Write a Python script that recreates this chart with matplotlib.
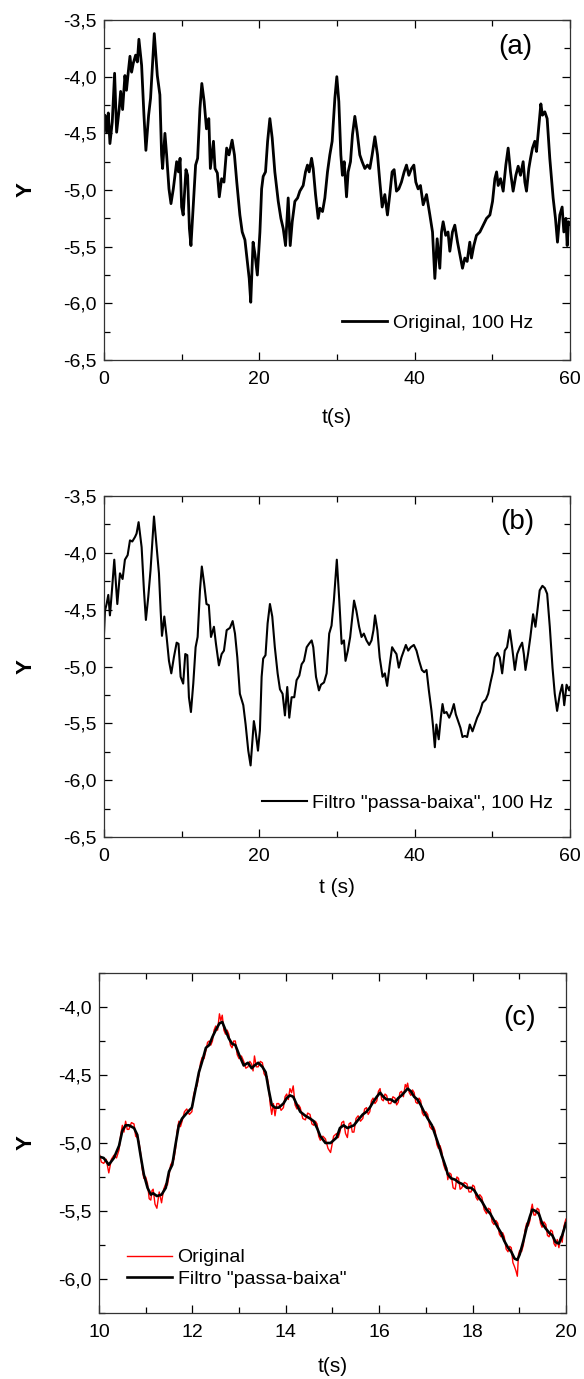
import matplotlib
matplotlib.use("Agg")
import matplotlib.pyplot as plt
from matplotlib.ticker import MultipleLocator, FuncFormatter

plt.rcParams['font.family'] = ['Liberation Sans', 'DejaVu Sans']

# (a) original signal, 100 Hz
t_orig = [0.0, 0.13, 0.34, 0.56, 0.77, 1.07, 1.37, 1.63, 1.97, 2.15,
          2.4, 2.7, 2.9, 3.13, 3.35, 3.56, 3.78, 4.08, 4.3, 4.5,
          4.85, 5.15, 5.4, 5.75, 6.0, 6.48, 6.87, 7.2, 7.42, 7.55,
          7.85, 8.07, 8.37, 8.63, 8.93, 9.36, 9.6, 9.8, 10.0, 10.2,
          10.56, 10.77, 11.0, 11.2, 11.5, 11.8, 12.06, 12.36, 12.6, 12.9,
          13.2, 13.5, 13.7, 14.1, 14.3, 14.6, 14.85, 15.15, 15.45, 15.8,
          16.1, 16.5, 16.8, 17.1, 17.5, 17.8, 18.15, 18.45, 18.7, 18.9,
          19.2, 19.45, 19.75,
          20.08, 20.3, 20.5, 20.8, 21.07, 21.36, 21.66, 22.0, 22.44, 22.78,
          23.08, 23.38, 23.72, 23.98, 24.24, 24.58, 24.93, 25.22, 25.65, 25.95,
          26.2, 26.42, 26.73, 26.94, 27.24, 27.58, 27.8, 28.14, 28.44, 28.78,
          29.08, 29.38, 29.73, 29.98, 30.24, 30.5, 30.7, 30.93, 31.23, 31.44,
          31.74, 32.0, 32.3, 32.6, 32.94, 33.24, 33.59, 33.93, 34.23, 34.53,
          34.88, 35.22, 35.52, 35.82, 36.16, 36.5, 36.8, 37.1, 37.36, 37.66,
          37.96, 38.3, 38.65, 38.95, 39.25,
          39.6, 39.9, 40.15, 40.45, 40.75, 41.1, 41.53, 41.96, 42.3, 42.6,
          42.9, 43.24, 43.46, 43.67, 44.0, 44.3, 44.53, 44.87, 45.17, 45.52,
          45.82, 46.16, 46.46, 46.76, 47.1, 47.32, 47.62, 47.96, 48.4, 48.83,
          49.26, 49.69, 50.03, 50.33, 50.55, 50.76, 51.06, 51.4, 51.74, 52.04,
          52.34, 52.68, 53.03, 53.33, 53.63, 53.97, 54.19, 54.4, 54.7, 54.92,
          55.17, 55.47, 55.69, 55.99, 56.25, 56.46, 56.76, 57.06, 57.4, 57.83,
          58.13, 58.39, 58.69, 58.99, 59.21, 59.47, 59.64, 59.81, 60.0]
y_orig = [-4.43, -4.34, -4.49, -4.32, -4.59, -4.40, -3.97, -4.49, -4.28, -4.13,
          -4.29, -3.99, -4.12, -3.96, -3.82, -3.96, -3.88, -3.81, -3.87, -3.67,
          -3.90, -4.34, -4.65, -4.34, -4.19, -3.62, -3.99, -4.16, -4.69, -4.81,
          -4.50, -4.69, -4.99, -5.12, -4.99, -4.75, -4.84, -4.72, -5.15, -5.22,
          -4.82, -4.87, -5.34, -5.49, -5.13, -4.78, -4.72, -4.28, -4.06, -4.22,
          -4.46, -4.37, -4.81, -4.57, -4.81, -4.85, -5.06, -4.90, -4.93, -4.63,
          -4.69, -4.56, -4.69, -4.93, -5.22, -5.37, -5.44, -5.63, -5.78, -5.99,
          -5.46, -5.57, -5.75,
          -5.37, -4.99, -4.88, -4.84, -4.57, -4.37, -4.54, -4.84, -5.10, -5.25,
          -5.34, -5.49, -5.07, -5.49, -5.28, -5.10, -5.07, -5.01, -4.96, -4.84,
          -4.78, -4.84, -4.72, -4.81, -5.04, -5.25, -5.16, -5.19, -5.07, -4.84,
          -4.69, -4.57, -4.19, -4.00, -4.22, -4.69, -4.87, -4.75, -5.06, -4.84,
          -4.75, -4.51, -4.35, -4.49, -4.69, -4.75, -4.81, -4.78, -4.81, -4.69,
          -4.53, -4.69, -4.93, -5.15, -5.04, -5.22, -5.04, -4.84, -4.82, -5.01,
          -4.99, -4.93, -4.84, -4.78, -4.87,
          -4.81, -4.78, -4.93, -4.99, -4.96, -5.13, -5.04, -5.22, -5.37, -5.78,
          -5.43, -5.69, -5.37, -5.28, -5.40, -5.37, -5.54, -5.37, -5.31, -5.46,
          -5.57, -5.69, -5.60, -5.63, -5.46, -5.60, -5.49, -5.40, -5.37, -5.31,
          -5.25, -5.22, -5.10, -4.90, -4.84, -4.96, -4.90, -5.01, -4.78, -4.63,
          -4.84, -5.01, -4.87, -4.79, -4.87, -4.75, -4.93, -5.01, -4.81, -4.72,
          -4.63, -4.57, -4.66, -4.43, -4.24, -4.34, -4.31, -4.37, -4.72, -5.07,
          -5.25, -5.46, -5.22, -5.15, -5.37, -5.25, -5.49, -5.28, -5.30]

# (b) low-pass filtered signal
t_filt = [0.0, 0.13, 0.34, 0.56, 0.77, 1.03, 1.33, 1.72, 2.06, 2.4,
          2.7, 3.05, 3.35, 3.65, 4.0, 4.2, 4.46, 4.85, 5.15, 5.4,
          5.7, 6.0, 6.44, 6.78, 7.08, 7.3, 7.47, 7.77, 8.07, 8.37,
          8.67, 9.0, 9.36, 9.6, 9.87, 10.2, 10.47, 10.73, 10.94, 11.2,
          11.5, 11.8, 12.06, 12.36, 12.6, 12.9, 13.2, 13.5, 13.78, 14.16,
          14.42, 14.8, 15.15, 15.45, 15.8, 16.22, 16.57, 16.87, 17.17, 17.5,
          17.94, 18.24, 18.58, 18.88, 19.3, 19.5, 19.83, 20.08, 20.3, 20.5,
          20.8, 21.07, 21.37, 21.67, 22.0, 22.36, 22.66, 23.0, 23.3, 23.6,
          23.86, 24.16, 24.5, 24.8, 25.15, 25.45, 25.75, 26.1, 26.4, 26.74,
          26.95, 27.3, 27.68, 27.94, 28.33, 28.67, 29.0, 29.3, 29.6, 29.98,
          30.3, 30.6, 30.9, 31.1, 31.4, 31.7, 32.2, 32.5, 32.85, 33.16,
          33.46, 33.8, 34.15, 34.45, 34.7, 34.9, 35.2, 35.5, 35.87, 36.16,
          36.46, 36.8, 37.1, 37.36, 37.66, 37.96, 38.3, 38.61, 38.87, 39.17,
          39.5, 39.9, 40.24, 40.58, 40.93, 41.23, 41.53, 41.83, 42.17, 42.39,
          42.6, 42.8, 43.1, 43.37, 43.59, 43.8, 44.1, 44.45, 44.75, 45.05,
          45.3, 45.6, 45.9, 46.16, 46.46, 46.76, 47.1, 47.45, 47.75, 48.05,
          48.4, 48.74, 49.17, 49.47, 49.77, 50.1, 50.32, 50.67, 50.96, 51.27,
          51.6, 51.9, 52.25, 52.55, 52.9, 53.2, 53.54, 53.84, 54.06, 54.27,
          54.6, 54.9, 55.25, 55.55, 55.8, 56.1, 56.45, 56.76, 57.06, 57.4,
          57.75, 58.04, 58.34, 58.7, 59.0, 59.26, 59.56, 59.9, 60.0]
y_filt = [-4.72, -4.51, -4.45, -4.37, -4.55, -4.33, -4.06, -4.45, -4.18, -4.23,
          -4.06, -4.02, -3.89, -3.90, -3.86, -3.83, -3.73, -3.95, -4.33, -4.59,
          -4.39, -4.15, -3.68, -3.95, -4.18, -4.51, -4.73, -4.56, -4.74, -4.95,
          -5.06, -4.92, -4.79, -4.80, -5.09, -5.15, -4.89, -4.90, -5.27, -5.40,
          -5.15, -4.83, -4.74, -4.33, -4.12, -4.27, -4.45, -4.46, -4.74, -4.65,
          -4.80, -4.99, -4.89, -4.86, -4.68, -4.66, -4.60, -4.71, -4.92, -5.24,
          -5.34, -5.51, -5.74, -5.87, -5.48, -5.56, -5.74, -5.56, -5.09, -4.93,
          -4.90, -4.62, -4.45, -4.56, -4.83, -5.06, -5.20, -5.24, -5.43, -5.18,
          -5.45, -5.27, -5.27, -5.12, -5.08, -4.98, -4.95, -4.83, -4.80, -4.77,
          -4.83, -5.09, -5.21, -5.16, -5.14, -5.06, -4.71, -4.64, -4.42, -4.06,
          -4.42, -4.80, -4.77, -4.95, -4.86, -4.74, -4.42, -4.51, -4.65, -4.74,
          -4.71, -4.77, -4.81, -4.77, -4.68, -4.55, -4.68, -4.92, -5.09, -5.06,
          -5.17, -4.98, -4.83, -4.86, -4.89, -5.01, -4.92, -4.86, -4.81, -4.86,
          -4.83, -4.81, -4.86, -4.95, -5.03, -5.05, -5.03, -5.21, -5.39, -5.54,
          -5.71, -5.51, -5.64, -5.45, -5.33, -5.41, -5.40, -5.45, -5.40, -5.33,
          -5.42, -5.48, -5.54, -5.62, -5.61, -5.62, -5.51, -5.57, -5.51, -5.45,
          -5.40, -5.32, -5.29, -5.24, -5.14, -5.04, -4.92, -4.88, -4.92, -5.06,
          -4.86, -4.83, -4.68, -4.83, -5.03, -4.89, -4.83, -4.79, -4.89, -5.03,
          -4.89, -4.74, -4.54, -4.65, -4.51, -4.33, -4.29, -4.31, -4.36, -4.65,
          -5.01, -5.24, -5.39, -5.24, -5.16, -5.34, -5.16, -5.21, -5.18]

# (c) detail 10-20 s
t_zoom = [10.0, 10.1, 10.21, 10.32, 10.43, 10.5, 10.57, 10.64, 10.75, 10.82,
          10.89, 10.96, 11.04, 11.11, 11.16, 11.24, 11.34, 11.43, 11.5, 11.57,
          11.64, 11.71, 11.78, 11.88, 11.99, 12.06, 12.14, 12.21, 12.29, 12.36,
          12.43, 12.5, 12.58, 12.64, 12.71, 12.78, 12.85, 12.92, 13.0, 13.1,
          13.19, 13.27, 13.33, 13.41, 13.5, 13.57, 13.63, 13.7, 13.77, 13.85,
          13.95, 14.02, 14.09, 14.16, 14.24, 14.31, 14.42, 14.52, 14.6, 14.67,
          14.74, 14.85, 14.96, 15.09, 15.16, 15.24, 15.32, 15.39, 15.46, 15.55,
          15.65, 15.73, 15.8, 15.87, 15.95, 16.02, 16.09, 16.16, 16.25, 16.34,
          16.41, 16.48, 16.56, 16.61, 16.68, 16.75, 16.82, 16.89, 16.96, 17.04,
          17.13, 17.2, 17.27, 17.34, 17.42, 17.47, 17.54, 17.63, 17.7, 17.77,
          17.88, 17.97, 18.04, 18.11, 18.2, 18.3, 18.38, 18.46, 18.54, 18.61,
          18.68, 18.76, 18.83, 18.9, 18.96, 19.01, 19.09, 19.16, 19.23, 19.28,
          19.35, 19.42, 19.49, 19.57, 19.64, 19.71, 19.78, 19.85, 19.92, 20.0]
y_zoom_orig = [-5.07, -5.15, -5.22, -5.09, -5.05, -4.87, -4.84, -4.90, -4.86, -4.96,
               -5.07, -5.26, -5.30, -5.42, -5.34, -5.48, -5.44, -5.30, -5.24, -5.14,
               -5.04, -4.84, -4.84, -4.75, -4.77, -4.60, -4.50, -4.37, -4.32, -4.25,
               -4.25, -4.14, -4.05, -4.06, -4.20, -4.20, -4.30, -4.25, -4.38, -4.40,
               -4.44, -4.42, -4.36, -4.44, -4.41, -4.51, -4.57, -4.79, -4.80, -4.71,
               -4.74, -4.64, -4.60, -4.58, -4.75, -4.74, -4.83, -4.79, -4.87, -4.86,
               -4.98, -4.97, -5.07, -4.93, -4.92, -4.84, -4.96, -4.85, -4.92, -4.80,
               -4.82, -4.74, -4.77, -4.67, -4.69, -4.60, -4.69, -4.65, -4.71, -4.67,
               -4.70, -4.62, -4.57, -4.56, -4.65, -4.63, -4.71, -4.69, -4.80, -4.79,
               -4.90, -4.91, -5.04, -5.06, -5.20, -5.27, -5.23, -5.34, -5.26, -5.33,
               -5.30, -5.36, -5.32, -5.42, -5.40, -5.52, -5.49, -5.60, -5.59, -5.69,
               -5.69, -5.80, -5.77, -5.91, -5.98, -5.79, -5.75, -5.59, -5.57, -5.45,
               -5.53, -5.49, -5.62, -5.60, -5.69, -5.65, -5.76, -5.77, -5.73, -5.56]
# extra original samples between the ones above
t_zoom_mid = [10.05, 10.155, 10.265, 10.375, 10.465, 10.535, 10.605, 10.695, 10.785, 10.855,
              10.925, 11.0, 11.075, 11.135, 11.2, 11.29, 11.385, 11.465, 11.535, 11.605,
              11.675, 11.745, 11.83, 11.935, 12.025, 12.1, 12.175, 12.25, 12.325, 12.395,
              12.465, 12.54, 12.61, 12.675, 12.745, 12.815, 12.885, 12.96, 13.05, 13.145,
              13.23, 13.3, 13.37, 13.455, 13.535, 13.6, 13.665, 13.735, 13.81, 13.9,
              13.985, 14.055, 14.125, 14.2, 14.275, 14.365, 14.47, 14.56, 14.635, 14.705,
              14.795, 14.905, 15.025, 15.125, 15.2, 15.28, 15.355, 15.425, 15.505, 15.6,
              15.69, 15.765, 15.835, 15.91, 15.985, 16.055, 16.125, 16.205, 16.295, 16.375,
              16.445, 16.52, 16.585, 16.645, 16.715, 16.785, 16.855, 16.925, 17.0, 17.085,
              17.165, 17.235, 17.305, 17.38, 17.445, 17.505, 17.585, 17.665, 17.735, 17.825,
              17.925, 18.005, 18.075, 18.155, 18.25, 18.34, 18.42, 18.5, 18.575, 18.645,
              18.72, 18.795, 18.865, 18.93, 18.985, 19.05, 19.125, 19.195, 19.255, 19.315,
              19.385, 19.455, 19.53, 19.605, 19.675, 19.745, 19.815, 19.885, 19.96]
y_zoom_mid = [-5.14, -5.12, -5.12, -5.11, -4.94, -4.92, -4.90, -4.85, -4.95, -4.99,
              -5.19, -5.25, -5.41, -5.35, -5.45, -5.36, -5.34, -5.31, -5.16, -5.12,
              -4.91, -4.88, -4.77, -4.79, -4.65, -4.58, -4.41, -4.38, -4.26, -4.28,
              -4.17, -4.17, -4.10, -4.17, -4.17, -4.28, -4.25, -4.35, -4.36, -4.45,
              -4.40, -4.47, -4.44, -4.40, -4.49, -4.51, -4.71, -4.71, -4.71, -4.76,
              -4.66, -4.68, -4.63, -4.72, -4.72, -4.82, -4.78, -4.86, -4.84, -4.95,
              -4.95, -5.04, -4.95, -4.96, -4.85, -4.93, -4.86, -4.92, -4.82, -4.84,
              -4.75, -4.79, -4.69, -4.71, -4.62, -4.68, -4.64, -4.71, -4.66, -4.72,
              -4.63, -4.66, -4.59, -4.63, -4.61, -4.70, -4.67, -4.78, -4.77, -4.88,
              -4.88, -5.01, -5.02, -5.16, -5.18, -5.22, -5.33, -5.25, -5.34, -5.29,
              -5.36, -5.31, -5.40, -5.38, -5.49, -5.48, -5.58, -5.57, -5.67, -5.66,
              -5.78, -5.76, -5.88, -5.94, -5.82, -5.80, -5.64, -5.61, -5.49, -5.53,
              -5.48, -5.59, -5.58, -5.68, -5.64, -5.74, -5.71, -5.69, -5.61]
y_zoom_filt = [-5.10, -5.11, -5.16, -5.11, -5.02, -4.91, -4.87, -4.87, -4.89, -4.94,
               -5.09, -5.23, -5.33, -5.38, -5.37, -5.39, -5.38, -5.33, -5.21, -5.16,
               -5.01, -4.87, -4.82, -4.78, -4.74, -4.62, -4.48, -4.40, -4.30, -4.28,
               -4.22, -4.17, -4.12, -4.11, -4.17, -4.23, -4.27, -4.28, -4.35, -4.43,
               -4.41, -4.45, -4.43, -4.41, -4.44, -4.48, -4.60, -4.72, -4.74, -4.74,
               -4.71, -4.67, -4.65, -4.66, -4.72, -4.77, -4.80, -4.82, -4.84, -4.89,
               -4.95, -5.00, -5.00, -4.96, -4.89, -4.87, -4.89, -4.88, -4.87, -4.83,
               -4.79, -4.77, -4.74, -4.70, -4.66, -4.63, -4.66, -4.68, -4.68, -4.70,
               -4.67, -4.65, -4.62, -4.60, -4.62, -4.66, -4.68, -4.72, -4.77, -4.82,
               -4.87, -4.94, -5.01, -5.09, -5.17, -5.23, -5.26, -5.27, -5.29, -5.30,
               -5.33, -5.33, -5.35, -5.39, -5.43, -5.49, -5.52, -5.57, -5.62, -5.66,
               -5.72, -5.77, -5.80, -5.85, -5.86, -5.82, -5.72, -5.62, -5.54, -5.49,
               -5.50, -5.52, -5.59, -5.63, -5.66, -5.68, -5.73, -5.74, -5.68, -5.59]

FS = 14


def comma_fmt(v, pos):
    return f'{v:.1f}'.replace('.', ',')


def style_axes(ax, xmaj, xmin):
    ax.xaxis.set_major_locator(MultipleLocator(xmaj))
    ax.xaxis.set_minor_locator(MultipleLocator(xmin))
    ax.yaxis.set_major_locator(MultipleLocator(0.5))
    ax.yaxis.set_minor_locator(MultipleLocator(0.25))
    ax.yaxis.set_major_formatter(FuncFormatter(comma_fmt))
    ax.tick_params(which='both', direction='in', top=True, right=True,
                   width=0.9, labelsize=FS)
    ax.tick_params(which='major', length=6)
    ax.tick_params(which='minor', length=4)
    ax.tick_params(axis='x', pad=8)
    ax.tick_params(axis='y', pad=5)
    for sp in ax.spines.values():
        sp.set_linewidth(0.9)
        sp.set_color('#333333')


def main():
    fig = plt.figure(figsize=(5.84, 13.79), dpi=100)

    # panel (a)
    ax1 = fig.add_axes([0.178, 0.7389, 0.798, 0.2466])
    ax1.plot(t_orig, y_orig, color='black', lw=2.0, label='Original, 100 Hz')
    ax1.set_xlim(0, 60)
    ax1.set_ylim(-6.5, -3.5)
    style_axes(ax1, 20, 10)
    ax1.set_xlabel('t(s)', fontsize=15)
    ax1.set_ylabel('Y', fontsize=16, fontweight='bold')
    ax1.xaxis.set_label_coords(0.5, -0.14)
    ax1.yaxis.set_label_coords(-0.145, 0.5)
    ax1.text(0.882, 0.92, '(a)', transform=ax1.transAxes, fontsize=20,
             ha='center', va='center')
    ax1.legend(loc='center left', bbox_to_anchor=(0.511, 0.109), frameon=False,
               fontsize=FS, handlelength=2.3, handletextpad=0.3, borderpad=0,
               borderaxespad=0)

    # panel (b)
    ax2 = fig.add_axes([0.178, 0.3930, 0.798, 0.2473])
    ax2.plot(t_filt, y_filt, color='black', lw=1.5,
             label='Filtro "passa-baixa", 100 Hz')
    ax2.set_xlim(0, 60)
    ax2.set_ylim(-6.5, -3.5)
    style_axes(ax2, 20, 10)
    ax2.set_xlabel('t (s)', fontsize=15)
    ax2.set_ylabel('Y', fontsize=16, fontweight='bold')
    ax2.xaxis.set_label_coords(0.5, -0.12)
    ax2.yaxis.set_label_coords(-0.145, 0.5)
    ax2.text(0.886, 0.924, '(b)', transform=ax2.transAxes, fontsize=20,
             ha='center', va='center')
    ax2.legend(loc='center left', bbox_to_anchor=(0.339, 0.10), frameon=False,
               fontsize=FS, handlelength=2.3, handletextpad=0.3, borderpad=0,
               borderaxespad=0)

    # panel (c): original samples interleaved in time order
    t_red, y_red = [], []
    for i in range(len(t_zoom)):
        t_red.append(t_zoom[i])
        y_red.append(y_zoom_orig[i])
        if i < len(t_zoom_mid):
            t_red.append(t_zoom_mid[i])
            y_red.append(y_zoom_mid[i])

    ax3 = fig.add_axes([0.1695, 0.0479, 0.7995, 0.2465])
    ax3.plot(t_red, y_red, color='#ff0000', lw=1.0, label='Original')
    ax3.plot(t_zoom, y_zoom_filt, color='black', lw=1.9,
             label='Filtro "passa-baixa"')
    ax3.set_xlim(10, 20)
    ax3.set_ylim(-6.25, -3.75)
    style_axes(ax3, 2, 1)
    ax3.set_xlabel('t(s)', fontsize=15)
    ax3.set_ylabel('Y', fontsize=16, fontweight='bold')
    ax3.xaxis.set_label_coords(0.5, -0.13)
    ax3.yaxis.set_label_coords(-0.133, 0.5)
    ax3.text(0.90, 0.868, '(c)', transform=ax3.transAxes, fontsize=20,
             ha='center', va='center')
    ax3.legend(loc='center left', bbox_to_anchor=(0.060, 0.131), frameon=False,
               fontsize=FS, handlelength=2.3, handletextpad=0.3, borderpad=0,
               borderaxespad=0, labelspacing=0.2)

    fig.savefig('out.png', dpi=100)
    plt.close(fig)


if __name__ == '__main__':
    main()
